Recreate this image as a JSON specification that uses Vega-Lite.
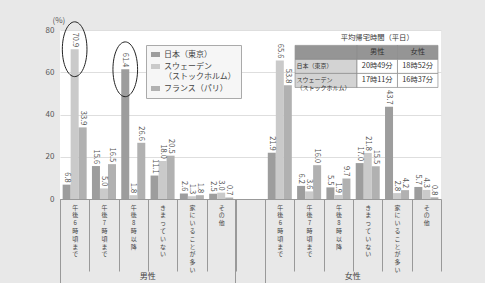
{
  "$schema": "https://vega.github.io/schema/vega-lite/v6.json",
  "width": 381,
  "height": 169,
  "autosize": {"type": "none"},
  "padding": {"left": 60, "top": 30, "right": 44, "bottom": 84},
  "background": "#e8e8e8",
  "config": {
    "view": {"fill": "#ffffff", "stroke": null},
    "font": "Noto Sans CJK JP"
  },
  "datasets": {
    "bars": [
      {"slot": "男性|午後6時頃まで", "gender": "男性", "category": "午後6時頃まで", "country": "日本（東京）", "value": 6.8},
      {"slot": "男性|午後6時頃まで", "gender": "男性", "category": "午後6時頃まで", "country": "スウェーデン（ストックホルム）", "value": 70.9},
      {"slot": "男性|午後6時頃まで", "gender": "男性", "category": "午後6時頃まで", "country": "フランス（パリ）", "value": 33.9},
      {"slot": "男性|午後7時頃まで", "gender": "男性", "category": "午後7時頃まで", "country": "日本（東京）", "value": 15.6},
      {"slot": "男性|午後7時頃まで", "gender": "男性", "category": "午後7時頃まで", "country": "スウェーデン（ストックホルム）", "value": 5.0},
      {"slot": "男性|午後7時頃まで", "gender": "男性", "category": "午後7時頃まで", "country": "フランス（パリ）", "value": 16.5},
      {"slot": "男性|午後8時以降", "gender": "男性", "category": "午後8時以降", "country": "日本（東京）", "value": 61.4},
      {"slot": "男性|午後8時以降", "gender": "男性", "category": "午後8時以降", "country": "スウェーデン（ストックホルム）", "value": 1.8},
      {"slot": "男性|午後8時以降", "gender": "男性", "category": "午後8時以降", "country": "フランス（パリ）", "value": 26.6},
      {"slot": "男性|きまっていない", "gender": "男性", "category": "きまっていない", "country": "日本（東京）", "value": 11.1},
      {"slot": "男性|きまっていない", "gender": "男性", "category": "きまっていない", "country": "スウェーデン（ストックホルム）", "value": 18.0},
      {"slot": "男性|きまっていない", "gender": "男性", "category": "きまっていない", "country": "フランス（パリ）", "value": 20.5},
      {"slot": "男性|家にいることが多い", "gender": "男性", "category": "家にいることが多い", "country": "日本（東京）", "value": 2.6},
      {"slot": "男性|家にいることが多い", "gender": "男性", "category": "家にいることが多い", "country": "スウェーデン（ストックホルム）", "value": 1.3},
      {"slot": "男性|家にいることが多い", "gender": "男性", "category": "家にいることが多い", "country": "フランス（パリ）", "value": 1.8},
      {"slot": "男性|その他", "gender": "男性", "category": "その他", "country": "日本（東京）", "value": 2.5},
      {"slot": "男性|その他", "gender": "男性", "category": "その他", "country": "スウェーデン（ストックホルム）", "value": 3.0},
      {"slot": "男性|その他", "gender": "男性", "category": "その他", "country": "フランス（パリ）", "value": 0.7},
      {"slot": "女性|午後6時頃まで", "gender": "女性", "category": "午後6時頃まで", "country": "日本（東京）", "value": 21.9},
      {"slot": "女性|午後6時頃まで", "gender": "女性", "category": "午後6時頃まで", "country": "スウェーデン（ストックホルム）", "value": 65.6},
      {"slot": "女性|午後6時頃まで", "gender": "女性", "category": "午後6時頃まで", "country": "フランス（パリ）", "value": 53.8},
      {"slot": "女性|午後7時頃まで", "gender": "女性", "category": "午後7時頃まで", "country": "日本（東京）", "value": 6.2},
      {"slot": "女性|午後7時頃まで", "gender": "女性", "category": "午後7時頃まで", "country": "スウェーデン（ストックホルム）", "value": 3.6},
      {"slot": "女性|午後7時頃まで", "gender": "女性", "category": "午後7時頃まで", "country": "フランス（パリ）", "value": 16.0},
      {"slot": "女性|午後8時以降", "gender": "女性", "category": "午後8時以降", "country": "日本（東京）", "value": 5.5},
      {"slot": "女性|午後8時以降", "gender": "女性", "category": "午後8時以降", "country": "スウェーデン（ストックホルム）", "value": 1.9},
      {"slot": "女性|午後8時以降", "gender": "女性", "category": "午後8時以降", "country": "フランス（パリ）", "value": 9.7},
      {"slot": "女性|きまっていない", "gender": "女性", "category": "きまっていない", "country": "日本（東京）", "value": 17.0},
      {"slot": "女性|きまっていない", "gender": "女性", "category": "きまっていない", "country": "スウェーデン（ストックホルム）", "value": 21.8},
      {"slot": "女性|きまっていない", "gender": "女性", "category": "きまっていない", "country": "フランス（パリ）", "value": 15.5},
      {"slot": "女性|家にいることが多い", "gender": "女性", "category": "家にいることが多い", "country": "日本（東京）", "value": 43.7},
      {"slot": "女性|家にいることが多い", "gender": "女性", "category": "家にいることが多い", "country": "スウェーデン（ストックホルム）", "value": 2.8},
      {"slot": "女性|家にいることが多い", "gender": "女性", "category": "家にいることが多い", "country": "フランス（パリ）", "value": 4.2},
      {"slot": "女性|その他", "gender": "女性", "category": "その他", "country": "日本（東京）", "value": 5.7},
      {"slot": "女性|その他", "gender": "女性", "category": "その他", "country": "スウェーデン（ストックホルム）", "value": 4.3},
      {"slot": "女性|その他", "gender": "女性", "category": "その他", "country": "フランス（パリ）", "value": 0.8}
    ],
    "table": [
      {"row": "title", "col": "男性", "text": "平均帰宅時間（平日）"},
      {"row": "header", "col": "項目", "text": ""},
      {"row": "header", "col": "男性", "text": "男性"},
      {"row": "header", "col": "女性", "text": "女性"},
      {"row": "日本", "col": "項目", "text": "日本（東京）"},
      {"row": "日本", "col": "男性", "text": "20時49分"},
      {"row": "日本", "col": "女性", "text": "18時52分"},
      {"row": "スウェーデン", "col": "項目", "text": "スウェーデン\n（ストックホルム）"},
      {"row": "スウェーデン", "col": "男性", "text": "17時11分"},
      {"row": "スウェーデン", "col": "女性", "text": "16時37分"}
    ]
  },
  "layer": [
    {
      "data": {"name": "bars"},
      "layer": [
        {
          "mark": {"type": "bar"},
          "encoding": {
            "x": {
              "field": "slot", "type": "nominal",
              "scale": {
                "domain": ["男性|午後6時頃まで", "男性|午後7時頃まで", "男性|午後8時以降", "男性|きまっていない", "男性|家にいることが多い", "男性|その他", "空", "女性|午後6時頃まで", "女性|午後7時頃まで", "女性|午後8時以降", "女性|きまっていない", "女性|家にいることが多い", "女性|その他"],
                "paddingInner": 0, "paddingOuter": 0
              },
              "axis": {
                "orient": "bottom",
                "title": null,
                "tickBand": "extent",
                "tickSize": 72,
                "tickColor": "#999999",
                "domainColor": "#999999",
                "labelExpr": "datum.label == '空' ? [''] : split(slice(datum.label, 3), '')",
                "labelAngle": 0,
                "labelAlign": "center",
                "labelBaseline": "top",
                "labelPadding": -67,
                "labelFontSize": 6,
                "labelLineHeight": 7.8,
                "labelColor": "#444444",
                "labelOverlap": false,
                "labelBound": false
              }
            },
            "xOffset": {
              "field": "country", "type": "nominal",
              "scale": {"domain": ["日本（東京）", "スウェーデン（ストックホルム）", "フランス（パリ）"], "paddingInner": 0, "paddingOuter": 0.33}
            },
            "y": {
              "field": "value", "type": "quantitative",
              "scale": {"domain": [0, 80], "nice": false},
              "axis": {
                "values": [0, 10, 20, 30, 40, 50, 60, 70, 80],
                "title": "(%)",
                "titleAngle": 0,
                "titleAlign": "left",
                "titleBaseline": "bottom",
                "titleX": -8,
                "titleY": -6,
                "titleFontSize": 8,
                "titleFontWeight": "normal",
                "titleColor": "#555555",
                "domain": false,
                "ticks": false,
                "labelPadding": 6,
                "labelFontSize": 8,
                "labelColor": "#555555",
                "gridColor": "#dedede"
              }
            },
            "color": {
              "field": "country", "type": "nominal",
              "scale": {"domain": ["日本（東京）", "スウェーデン（ストックホルム）", "フランス（パリ）"], "range": ["#9d9d9d", "#cacaca", "#b1b1b1"]},
              "legend": {
                "orient": "none",
                "legendX": 86,
                "legendY": 15,
                "title": null,
                "fillColor": "#f6f6f6",
                "strokeColor": "#aaaaaa",
                "padding": 5,
                "labelFontSize": 8,
                "labelColor": "#444444",
                "symbolType": "M-1,-0.55H1V0.55H-1Z",
                "symbolSize": 81,
                "symbolStrokeWidth": 0,
                "rowPadding": 3,
                "labelExpr": "datum.label == 'スウェーデン（ストックホルム）' ? ['スウェーデン', '（ストックホルム）'] : datum.label"
              }
            }
          }
        },
        {
          "mark": {"type": "text", "angle": 90, "align": "right", "baseline": "middle", "dx": -2, "fontSize": 7.5, "color": "#555555"},
          "encoding": {
            "x": {
              "field": "slot", "type": "nominal",
              "axis": {
                "orient": "bottom",
                "title": null,
                "values": ["男性|午後6時頃まで", "空", "女性|午後6時頃まで"],
                "bandPosition": 0,
                "tickSize": 84,
                "tickColor": "#999999",
                "domain": false,
                "labelExpr": "datum.label == '男性|午後6時頃まで' ? '男性' : datum.label == '女性|午後6時頃まで' ? '女性' : ''",
                "labelOffset": 73,
                "labelAngle": 0,
                "labelAlign": "center",
                "labelBaseline": "top",
                "labelPadding": -11,
                "labelFontSize": 8,
                "labelColor": "#444444",
                "labelOverlap": false,
                "labelBound": false
              }
            },
            "xOffset": {"field": "country", "type": "nominal"},
            "y": {"field": "value", "type": "quantitative"},
            "text": {"field": "value", "type": "quantitative", "format": ".1f"}
          }
        },
        {
          "transform": [
            {"filter": "(datum.slot == '男性|午後6時頃まで' && datum.country == 'スウェーデン（ストックホルム）') || (datum.slot == '男性|午後8時以降' && datum.country == '日本（東京）')"}
          ],
          "mark": {"type": "point", "shape": "M0,-1A0.45,1 0 1,1 0,1A0.45,1 0 1,1 0,-1Z", "size": 3000, "filled": false, "stroke": "#222222", "strokeWidth": 1, "opacity": 1},
          "encoding": {
            "x": {"field": "slot", "type": "nominal", "axis": null},
            "xOffset": {"field": "country", "type": "nominal"},
            "y": {"field": "value", "type": "quantitative"}
          }
        }
      ],
      "resolve": {"axis": {"x": "independent"}}
    },
    {
      "data": {"name": "table"},
      "encoding": {
        "y": {
          "field": "row", "type": "nominal",
          "scale": {"domain": ["title", "header", "日本", "スウェーデン"], "range": [{"expr": "height*0.008"}, {"expr": "height*0.34"}], "paddingInner": 0, "paddingOuter": 0},
          "axis": null
        }
      },
      "layer": [
        {
          "transform": [{"filter": "datum.col == '項目' && datum.row != 'title'"}],
          "mark": {"type": "rect", "stroke": "#8c8c8c", "strokeWidth": 0.7},
          "encoding": {
            "x": {"field": "col", "type": "nominal", "scale": {"domain": ["項目"], "range": [{"expr": "width*0.617"}, {"expr": "width*0.7795"}], "paddingInner": 0, "paddingOuter": 0}, "axis": null},
            "fill": {"condition": {"test": "datum.row == 'header'", "value": "#959595"}, "value": "#d3d3d3"}
          }
        },
        {
          "transform": [{"filter": "datum.col != '項目' && datum.row != 'title'"}],
          "mark": {"type": "rect", "stroke": "#8c8c8c", "strokeWidth": 0.7},
          "encoding": {
            "x": {"field": "col", "type": "nominal", "scale": {"domain": ["男性", "女性"], "range": [{"expr": "width*0.7795"}, {"expr": "width*0.992"}], "paddingInner": 0, "paddingOuter": 0}, "axis": null},
            "fill": {"condition": {"test": "datum.row == 'header'", "value": "#959595"}, "value": "#ffffff"}
          }
        },
        {
          "transform": [{"filter": "datum.col == '項目' && datum.row != 'title'"}],
          "mark": {"type": "text", "align": "left", "baseline": "middle", "dx": 1.5, "fontSize": 6, "lineHeight": 7.8, "lineBreak": "\n", "color": "#333333"},
          "encoding": {
            "x": {"field": "col", "type": "nominal", "scale": {"domain": ["項目"], "range": [{"expr": "width*0.55"}, {"expr": "width*0.684"}], "paddingInner": 0, "paddingOuter": 0}, "axis": null},
            "text": {"field": "text"}
          }
        },
        {
          "transform": [{"filter": "datum.col != '項目'"}],
          "mark": {"type": "text", "align": "center", "baseline": "middle", "fontSize": 7.3, "color": "#333333"},
          "encoding": {
            "x": {"field": "col", "type": "nominal", "scale": {"domain": ["男性", "女性"], "range": [{"expr": "width*0.7795"}, {"expr": "width*0.992"}], "paddingInner": 0, "paddingOuter": 0}, "axis": null},
            "text": {"field": "text"}
          }
        }
      ],
      "resolve": {"scale": {"x": "independent"}}
    }
  ],
  "resolve": {"scale": {"x": "independent", "y": "independent"}}
}
